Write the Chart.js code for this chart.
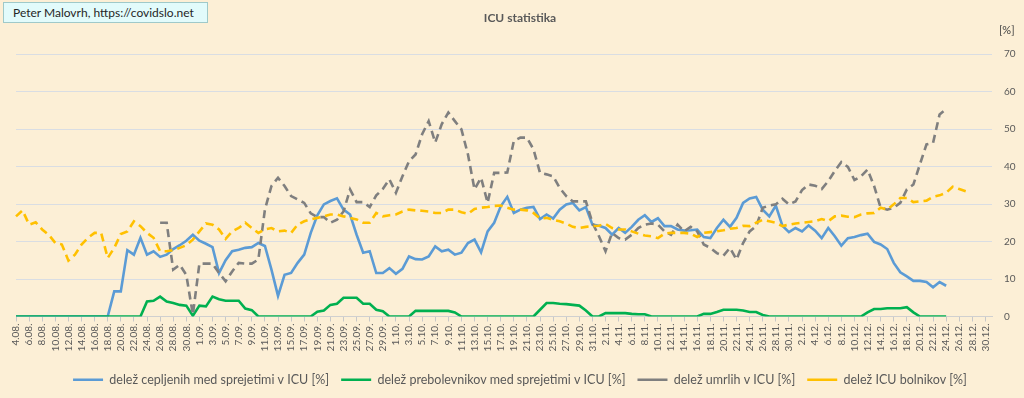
<!DOCTYPE html>
<html>
<head>
<meta charset="utf-8">
<script src="https://cdn.jsdelivr.net/npm/chart.js@4"></script>
<style>
  html, body { margin: 0; padding: 0; }
  body {
    width: 1024px; height: 398px; overflow: hidden; position: relative;
    background: #fcefd6;
    font-family: Lato, "Open Sans", sans-serif;
  }
  #wrap { position: absolute; left: 0; top: 0; width: 1024px; height: 398px; }
  #source {
    position: absolute; left: 3px; top: 2px; width: 205px; height: 21px;
    background: #e2fbfb; border: 1px solid #9fc9c9; box-sizing: border-box;
    font-size: 12px; line-height: 19px; color: #262626; padding-left: 9px;
  }
  #title {
    position: absolute; left: 0; width: 1040px; top: 10px; text-align: center;
    font-size: 12px; font-weight: bold; color: #595959;
  }
  #unit { position: absolute; left: 999px; top: 23px; font-size: 11px; color: #404040; }
</style>
</head>
<body>
<div id="wrap"><canvas id="icuChart" width="1024" height="398"></canvas></div>
<div id="source">Peter Malovrh, https://covidslo.net</div>
<div id="title">ICU statistika</div>
<div id="unit">[%]</div>
<script>
// months shown on the x axis (day labels 4.08. .. 31.12.)
const months = [[8, 4, 31], [9, 1, 30], [10, 1, 31], [11, 1, 30], [12, 1, 31]];
const days = [];
months.forEach(([m, from, to]) => {
  for (let d = from; d <= to; d += 1) days.push(d + '.' + String(m).padStart(2, '0') + '.');
});

// delež cepljenih med sprejetimi v ICU [%]
const vaccinated = [
  0, 0, 0, 0, 0, 0, 0, 0, 0, 0, 0, 0, 0, 0, 0, 6.7, 6.7, 17.7, 16.5, 21,
  16.5, 17.4, 15.9, 16.5, 18, 19, 20.2, 21.8, 20.2, 19.4, 18.5, 11.6, 15, 17.4, 17.8, 18.3, 18.5, 19.6, 18.8, 12.5,
  5.5, 11.1, 11.6, 14.3, 16.5, 22.3, 27, 29.9, 30.8, 31.5, 28.5, 27.2, 21.8, 17, 17.4, 11.6, 11.6, 12.9, 11.4, 12.7,
  16, 15.3, 15.2, 16, 18.7, 17.4, 17.8, 16.5, 17, 19.6, 20.5, 17.1, 22.7, 25, 29.4, 31.9, 27.6, 28.5, 29, 29.2,
  26, 27.2, 26.1, 28.5, 29.9, 30.3, 28.3, 29.2, 24.5, 24.2, 23.6, 21.8, 23.6, 22.3, 23.9, 25.8, 27, 25.2, 26.2, 24.1,
  24.1, 23.2, 22.9, 23, 23.2, 21.2, 20.9, 23.6, 25.8, 23.9, 26.3, 30.3, 31.5, 31.9, 28.5, 26.7, 29.6, 24.2, 22.5, 23.6,
  22.7, 24.3, 22.9, 20.9, 23.6, 21.4, 18.9, 20.9, 21.2, 21.7, 22.1, 19.9, 19.2, 18, 14.3, 11.8, 10.7, 9.5, 9.5, 9.2,
  7.8, 9.2, 8.2, null, null, null, null, null, null, null
];

// delež prebolevnikov med sprejetimi v ICU [%]
const recovered = [
  0, 0, 0, 0, 0, 0, 0, 0, 0, 0, 0, 0, 0, 0, 0, 0, 0, 0, 0, 0,
  4, 4.2, 5.3, 4, 3.6, 3.1, 2.9, 0.2, 2.9, 2.7, 5.3, 4.6, 4.2, 4.2, 4.2, 2.1, 1.7, 0, 0, 0,
  0, 0, 0, 0, 0, 0, 1.3, 1.6, 3.1, 3.4, 5, 5, 5, 3.4, 3.4, 1.8, 1.4, 0, 0, 0,
  0, 1.5, 1.5, 1.5, 1.5, 1.5, 1.5, 1.1, 0, 0, 0, 0, 0, 0, 0, 0, 0, 0, 0, 0,
  1.8, 3.6, 3.6, 3.4, 3.3, 3.1, 2.9, 1.6, 0, 0, 0.9, 0.9, 0.9, 0.9, 0.7, 0.6, 0.6, 0, 0, 0,
  0, 0, 0, 0, 0, 0.7, 0.7, 1.2, 1.8, 1.8, 1.8, 1.6, 1.2, 1.2, 0.4, 0, 0, 0, 0, 0,
  0, 0, 0, 0, 0, 0, 0, 0, 0, 0, 1.1, 2, 2, 2.2, 2.2, 2.2, 2.5, 1.1, 0, 0,
  0, 0, 0, null, null, null, null, null, null, null
];

// delež umrlih v ICU [%]
const deceased = [
  null, null, null, null, null, null, null, null, null, null, null, null, null, null, null, null, null, null, null, null,
  null, null, 25, 25, 12.5, 13.8, 11.1, 0.5, 14.1, 14.1, 14.1, 11.6, 9.4, 12, 14.3, 14.1, 14.1, 15.2, 28.5, 34.8,
  37, 34.8, 32.1, 31.2, 30.3, 27.5, 26.5, 26.5, 25, 25.8, 28, 33.9, 30.5, 30.5, 29.2, 32.3, 34, 36.6, 33, 37.4,
  41.4, 43.2, 48.6, 52.1, 46.4, 51.3, 54.4, 52.1, 49.9, 43.2, 33.9, 37, 30.3, 38.3, 38.3, 38.4, 46.8, 47.7, 47.7, 44.6,
  38.3, 37.9, 37.4, 34.3, 32.1, 30.7, 30.7, 30.7, 25, 21.4, 17.4, 22.3, 20.9, 20.5, 21.8, 23.6, 24.5, 24.8, 24.5, 22.7,
  21.8, 24.5, 22.7, 23.9, 22.7, 19.2, 18.3, 16.9, 16.2, 18.3, 15.2, 19.6, 22.7, 24.1, 29, 29.6, 29.9, 31.4, 29.9, 30.7,
  33.7, 35.2, 34.9, 34, 36.1, 38.8, 41.2, 39.9, 36.4, 37.4, 39.2, 34.8, 29, 28.5, 29, 30.3, 33.9, 35.2, 40.6, 45.9,
  46.3, 53.9, 55.3, null, null, null, null, null, null, null
];

// delež ICU bolnikov [%]
const icuShare = [
  26.7, 28.3, 24.5, 25.1, 23.2, 21.8, 19.6, 19.2, 14.9, 16.5, 19.2, 21, 22.3, 22.3, 15.6, 18.3, 22, 22.7, 25.4, 24.1,
  22.3, 21, 17.4, 17.4, 17.7, 18.3, 19, 20.5, 22.7, 24.8, 24.5, 23.2, 20.7, 22.7, 23.6, 25, 23.6, 22.3, 23.2, 23.6,
  22.7, 22.9, 22.3, 24.5, 25.4, 25.9, 26.3, 26.7, 27.2, 27.2, 26.7, 26.3, 25.9, 25, 25, 27.6, 26.7, 27, 27.2, 28,
  28.5, 28.3, 28.2, 28, 27.6, 27.6, 28.5, 28.5, 27.8, 27.4, 28.7, 29, 29.2, 29.5, 29.6, 29, 28.5, 28.5, 28.3, 27.6,
  26.1, 26.3, 25.8, 25.4, 24.8, 23.9, 23.6, 23.9, 24.1, 24.2, 24.7, 23.6, 23.2, 23.2, 22.7, 22.1, 21.6, 21.4, 20.9, 22.1,
  22.3, 22.3, 22.3, 22.1, 21.2, 22.3, 22.5, 22.7, 23, 23.4, 23.6, 24.2, 24.1, 25, 25.8, 25.4, 25, 24.1, 24.5, 24.8,
  25, 25.2, 25.4, 26, 25.4, 26.7, 26.9, 26.6, 26.5, 27.2, 27.5, 27.6, 29, 28.5, 29.9, 31.6, 31.6, 30.5, 30.7, 30.9,
  31.9, 32.3, 33, 34.6, 34, 33.4, null, null, null, null
];

const yTicks = [0, 10, 20, 30, 40, 50, 60, 70];

const ctx = document.getElementById('icuChart');
const textColor = '#595959';
const gridColor = '#d9dde3';

const line = (label, data, color, dash, order) => ({
  label,
  data,
  borderColor: color,
  backgroundColor: color,
  borderWidth: 2.6,
  borderDash: dash,
  pointRadius: 0,
  tension: 0,
  spanGaps: false,
  order,
});

const chart = new Chart(ctx, {
  type: 'line',
  data: {
    labels: days,
    datasets: [
      line('delež cepljenih med sprejetimi v ICU [%]', vaccinated, '#5b9bd5', [], 4),
      line('delež prebolevnikov med sprejetimi v ICU [%]', recovered, '#00b050', [], 3),
      line('delež umrlih v ICU [%]', deceased, '#7f7f7f', [8, 5], 2),
      line('delež ICU bolnikov [%]', icuShare, '#ffc000', [8, 5], 1),
    ],
  },
  options: {
    responsive: false,
    animation: false,
    events: [],
    layout: { padding: { left: 16, right: 0, top: 54, bottom: 2 } },
    plugins: {
      title: { display: false },
      tooltip: { enabled: false },
      legend: {
        position: 'bottom',
        labels: {
          usePointStyle: true,
          pointStyle: 'line',
          pointStyleWidth: 30,
          boxWidth: 30,
          boxHeight: 12,
          padding: 12,
          color: textColor,
          font: { family: 'Lato', size: 12.5 },
          sort: (a, b) => a.datasetIndex - b.datasetIndex,
        },
      },
    },
    scales: {
      x: {
        offset: false,
        grid: {
          display: true,
          drawOnChartArea: false,
          tickLength: 5,
          tickColor: c => (c.index % 2 ? 'rgba(0,0,0,0)' : '#c8c8c8'),
        },
        border: { color: '#d0d0d0' },
        ticks: {
          autoSkip: false,
          maxRotation: 90,
          minRotation: 90,
          padding: 2,
          color: textColor,
          font: { family: 'Lato', size: 10 },
          callback: (v, i) => (i % 2 ? '' : days[i]),
        },
        afterFit: s => { s.height = 45; },
      },
      y: {
        position: 'right',
        min: 0,
        max: 70,
        afterBuildTicks: s => { s.ticks = yTicks.map(v => ({ value: v })); },
        grid: { color: gridColor, drawTicks: false },
        border: { display: false },
        ticks: {
          padding: 12,
          color: textColor,
          font: { family: 'Lato', size: 10 },
        },
        afterFit: s => { s.width = 32; },
      },
    },
  },
});
</script>
</body>
</html>
